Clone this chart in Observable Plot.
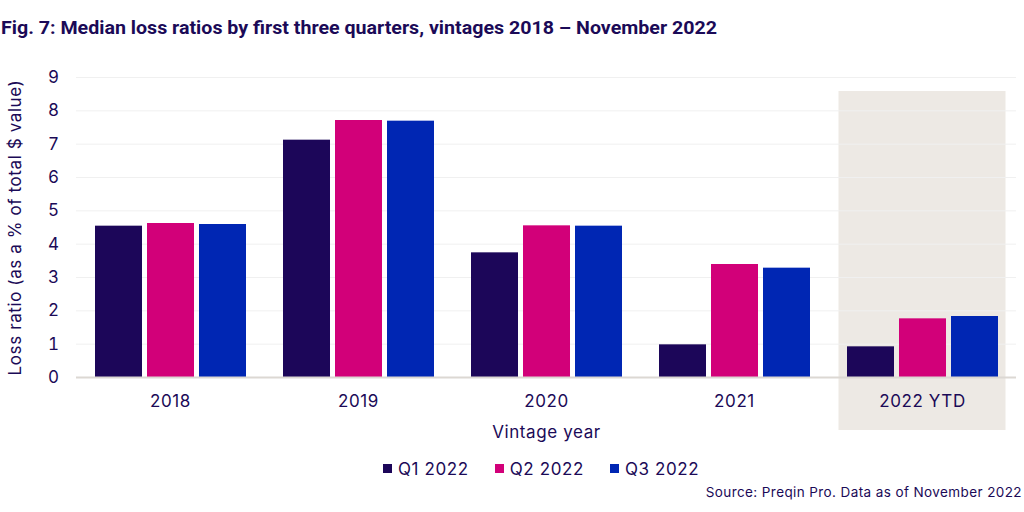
<!DOCTYPE html>
<html>
<head>
<meta charset="utf-8">
<script src="https://cdn.jsdelivr.net/npm/d3@7"></script>
<script src="https://cdn.jsdelivr.net/npm/@observablehq/plot@0.6"></script>
<style>
  html, body { margin: 0; padding: 0; background: #ffffff; }
  #wrap { position: relative; width: 1024px; height: 512px; overflow: hidden; font-family: Inter, "Open Sans", sans-serif; color: #1b0a57; }
  #title { position: absolute; left: 1px; top: 16px; font-family: Roboto, sans-serif; font-weight: bold; font-size: 19px; color: #1b0a57; white-space: nowrap; transform-origin: 0 0; }
  #chart { position: absolute; left: 0; top: 50px; }
  #chart svg text { letter-spacing: 0.6px; }
  #legend { position: absolute; left: 383px; top: 452px; letter-spacing: 0.6px; }
  #legend .lg-swatch { margin-right: 26px !important; }
  #legend .lg-swatch svg { margin-right: 6px !important; }
  #source { position: absolute; right: 2px; top: 484px; font-size: 13.5px; letter-spacing: 0.4px; color: #1b0a57; white-space: nowrap; }
</style>
</head>
<body>
<div id="wrap">
  <div id="title">Fig. 7: Median loss ratios by first three quarters, vintages 2018 – November 2022</div>
  <div id="chart"></div>
  <div id="legend"></div>
  <div id="source">Source: Preqin Pro. Data as of November 2022</div>
</div>
<script>
const vintages = ["2018", "2019", "2020", "2021", "2022 YTD"];
const quarters = ["Q1 2022", "Q2 2022", "Q3 2022"];
const q1Values = [4.54, 7.12, 3.74, 0.98, 0.92];
const q2Values = [4.62, 7.71, 4.55, 3.39, 1.76];
const q3Values = [4.59, 7.69, 4.54, 3.28, 1.83];
const yTicks = [0, 1, 2, 3, 4, 5, 6, 7, 8, 9];
const highlighted = ["2022 YTD"];
const colors = ["#1c0659", "#d20079", "#0026b3"];

const series = [q1Values, q2Values, q3Values];
const data = vintages.flatMap((v, i) =>
  quarters.map((q, j) => ({ vintage: v, quarter: q, value: series[j][i] }))
);

const chart = Plot.plot({
  width: 1024,
  height: 398,
  marginLeft: 75,
  marginRight: 6,
  marginTop: 27,
  marginBottom: 71,
  style: { fontFamily: "Inter, sans-serif", fontSize: "17px", color: "#1b0a57", background: "transparent", overflow: "visible" },
  fx: { domain: vintages, paddingInner: 0.19, paddingOuter: 0.095 },
  x: { domain: quarters, paddingInner: 0.1, paddingOuter: 0, axis: null },
  y: { domain: [0, 9] },
  color: { domain: quarters, range: colors },
  marks: [
    Plot.barY(highlighted, { fx: d => d, y1: () => 8.58, y2: () => -1.59, fill: "#ede9e4", insetLeft: -7.5, insetRight: -7.5 }),
    Plot.axisFx({ anchor: "bottom", tickSize: 0, tickPadding: 17, label: "Vintage year", labelAnchor: "center", labelOffset: 60, labelArrow: false }),
    Plot.axisY({ ticks: yTicks, tickSize: 0, tickPadding: 35, label: "Loss ratio (as a % of total $ value)", labelAnchor: "center", labelOffset: 86, labelArrow: false }),
    Plot.ruleY(yTicks.slice(1), { stroke: "#f0f0f0", strokeWidth: 1, insetLeft: -18, insetRight: -18 }),
    Plot.barY(data, { fx: "vintage", x: "quarter", y: "value", fill: "quarter" }),
    Plot.ruleY([0], { stroke: "#dcd8d3", strokeWidth: 2, insetLeft: -18, insetRight: -18 })
  ]
});
document.getElementById("chart").appendChild(chart);

const legend = Plot.legend({
  color: { domain: quarters, range: colors },
  legend: "swatches",
  swatchSize: 9,
  className: "lg",
  style: { fontFamily: "Inter, sans-serif", fontSize: "17px", color: "#1b0a57" }
});
document.getElementById("legend").appendChild(legend);

// fit title to the reference width
const title = document.getElementById("title");
const tw = title.getBoundingClientRect().width;
title.style.transform = `scaleX(${716 / tw})`;
</script>
</body>
</html>
